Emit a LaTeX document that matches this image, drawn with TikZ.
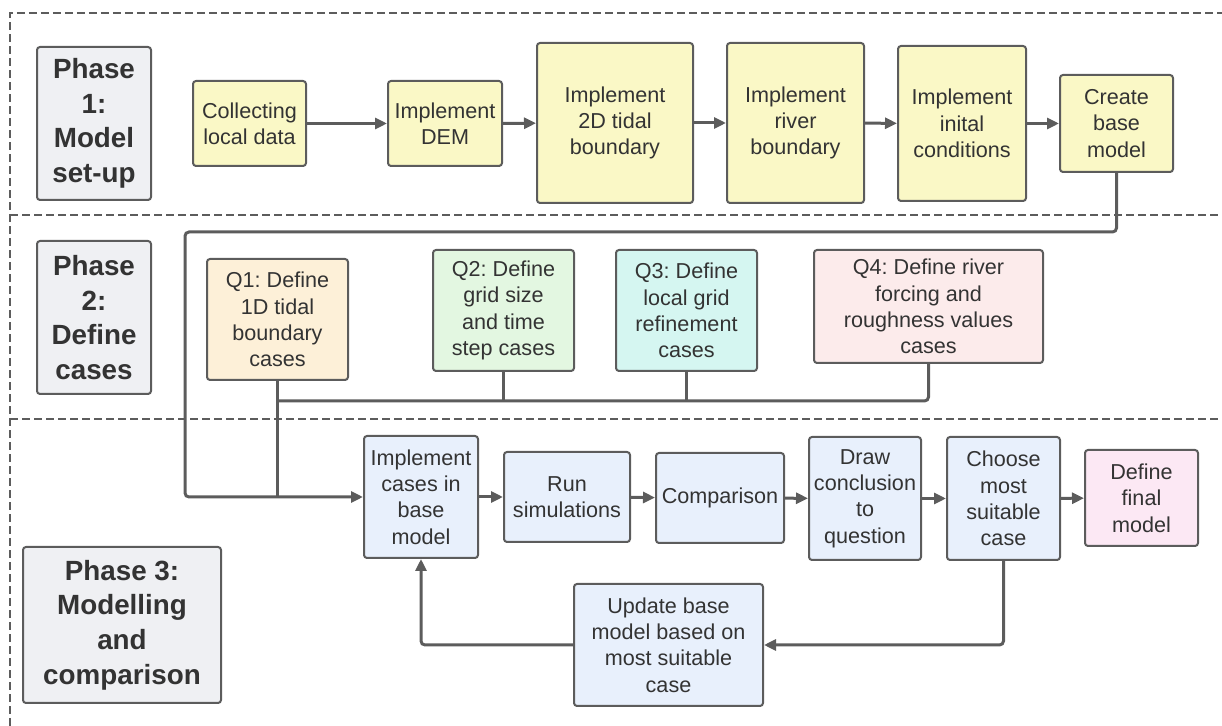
\documentclass[tikz,border=0pt]{standalone}
\usepackage{fontspec}
\setmainfont{Liberation Sans}
\usetikzlibrary{arrows.meta}
\frenchspacing

\definecolor{linegray}{HTML}{5C5C5C}
\definecolor{textgray}{HTML}{333333}
\definecolor{phasefill}{HTML}{EFF0F3}
\definecolor{setupfill}{HTML}{FAF8C6}
\definecolor{qonefill}{HTML}{FDF0D8}
\definecolor{qtwofill}{HTML}{E3F7E1}
\definecolor{qthreefill}{HTML}{D5F6F1}
\definecolor{qfourfill}{HTML}{FCEBEB}
\definecolor{runfill}{HTML}{E8F0FC}
\definecolor{finalfill}{HTML}{FCE8F4}

\tikzset{
    box/.style = {
        draw=linegray,
        line width=1pt,
        rounded corners=1.5pt,
        align=center,
        inner sep=1pt,
        text=textgray,
        font=\fontsize{10.8}{13.2}\selectfont
    },
    phase/.style = {
        box,
        fill=phasefill,
        font=\fontsize{13.9}{17.3}\selectfont\bfseries
    },
    divider/.style = {
        linegray,
        line width=0.6pt,
        dash pattern=on 4pt off 2pt
    },
    connect/.style = {
        linegray,
        line width=1.5pt,
        rounded corners=2pt
    },
    flow/.style = {
        connect,
        -{Triangle[length=6pt,width=5.5pt]}
    }
}

\begin{document}
\begin{tikzpicture}[x=0.5pt,y=-0.5pt]
    \useasboundingbox (0,0) rectangle (1222,726);

    % Draw phase borders
    \draw[divider] (10,726) -- (10,13) -- (1222,13);
    \draw[divider] (10,215) -- (1222,215);
    \draw[divider] (10,419) -- (1222,419);

    % Phase labels
    \node[phase, minimum width=57pt, minimum height=76.5pt] (phaseone) at (94,123.5) {Phase\\1:\\Model\\set-up};
    \node[phase, minimum width=57pt, minimum height=76.5pt] (phasetwo) at (94,317.5) {Phase\\2:\\Define\\cases};
    \node[phase, minimum width=99pt, minimum height=78pt] (phasethree) at (122,625) {Phase 3:\\Modelling\\and\\comparison};

    % Phase 1: model set-up
    \node[box, fill=setupfill, minimum width=56.5pt, minimum height=42.5pt] (collect) at (249.5,123.5) {Collecting\\local data};
    \node[box, fill=setupfill, minimum width=57pt, minimum height=42.5pt] (dem) at (445,123.5) {Implement\\DEM};
    \node[box, fill=setupfill, minimum width=78pt, minimum height=80pt] (tidal) at (615,123) {Implement\\2D tidal\\boundary};
    \node[box, fill=setupfill, minimum width=68.5pt, minimum height=80pt] (river) at (795.5,123) {Implement\\river\\boundary};
    \node[box, fill=setupfill, minimum width=64pt, minimum height=77.5pt] (initial) at (962,123.5) {Implement\\inital\\conditions};
    \node[box, fill=setupfill, minimum width=56.5pt, minimum height=48.5pt] (create) at (1116.5,123.5) {Create\\base\\model};

    % Phase 2: define cases
    \node[box, fill=qonefill, minimum width=70.5pt, minimum height=60.5pt] (qone) at (277.5,319.5) {Q1: Define\\1D tidal\\boundary\\cases};
    \node[box, fill=qtwofill, minimum width=70.5pt, minimum height=60.5pt] (qtwo) at (503.5,310.5) {Q2: Define\\grid size\\and time\\step cases};
    \node[box, fill=qthreefill, minimum width=70.5pt, minimum height=60.5pt] (qthree) at (686.5,310.5) {Q3: Define\\local grid\\refinement\\cases};
    \node[box, fill=qfourfill, minimum width=114.5pt, minimum height=56.5pt] (qfour) at (928.5,306.5) {Q4: Define river\\forcing and\\roughness values\\cases};

    % Phase 3: modelling and comparison
    \node[box, fill=runfill, minimum width=57pt, minimum height=61pt] (implement) at (421,497) {Implement\\cases in\\base\\model};
    \node[box, fill=runfill, minimum width=63pt, minimum height=45pt] (run) at (567,497) {Run\\simulations};
    \node[box, fill=runfill, minimum width=64pt, minimum height=45pt] (compare) at (720,498) {Comparison};
    \node[box, fill=runfill, minimum width=56pt, minimum height=61.5pt] (conclude) at (865,498.5) {Draw\\conclusion\\to\\question};
    \node[box, fill=runfill, minimum width=56.5pt, minimum height=61.5pt] (choose) at (1003.5,498.5) {Choose\\most\\suitable\\case};
    \node[box, fill=finalfill, minimum width=56.5pt, minimum height=48pt] (final) at (1141.5,498) {Define\\final\\model};
    \node[box, fill=runfill, minimum width=94.5pt, minimum height=61pt] (update) at (668.5,645) {Update base\\model based on\\most suitable\\case};

    \coordinate (looptop) at (185,232);
    \coordinate (loopbot) at (185,497);
    \coordinate (bus) at (277.5,401);

    % Draw arrows
    \draw[flow] (collect) -- (dem);
    \draw[flow] (dem) -- (tidal);
    \draw[flow] (tidal) -- (river);
    \draw[flow] (river) -- (initial);
    \draw[flow] (initial) -- (create);

    \draw[flow] (create.south) |- (looptop) -- (loopbot) -- (implement.west);
    \draw[connect] (qone.south) -- (qone.south |- implement.west);
    \draw[connect] (qfour.south) |- (bus);
    \draw[connect] (qtwo.south) -- (qtwo.south |- bus);
    \draw[connect] (qthree.south) -- (qthree.south |- bus);

    \draw[flow] (implement) -- (run);
    \draw[flow] (run) -- (compare);
    \draw[flow] (compare) -- (conclude);
    \draw[flow] (conclude) -- (choose);
    \draw[flow] (choose) -- (final);
    \draw[flow] (choose.south) |- (update.east);
    \draw[flow] (update.west) -| (implement.south);
\end{tikzpicture}
\end{document}
